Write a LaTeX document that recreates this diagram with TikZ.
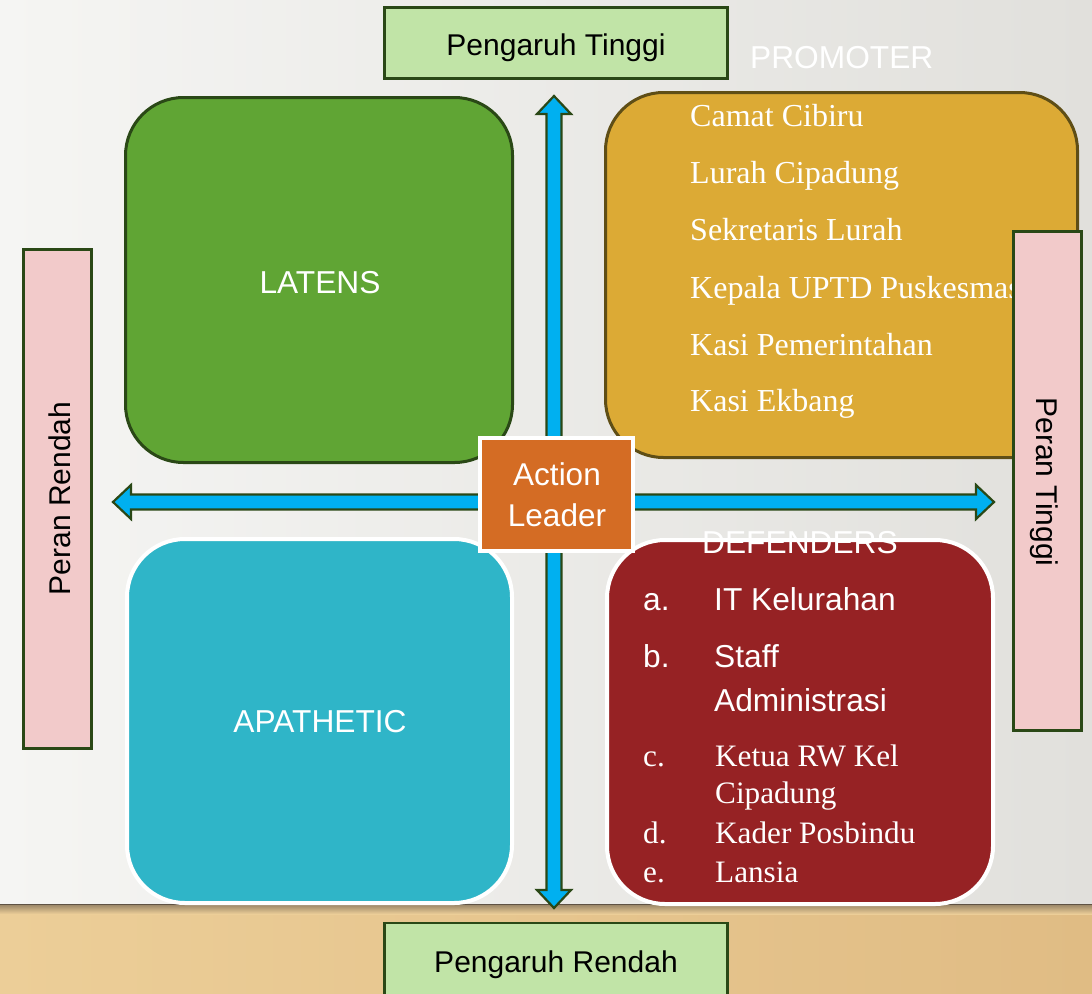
\documentclass[tikz,border=0pt]{standalone}
\usepackage{fontspec}
\setmainfont{Liberation Serif}
\newfontfamily\arial{Liberation Sans}
\definecolor{dkgreen}{RGB}{42,72,22}
\definecolor{lgreen}{RGB}{193,228,167}
\definecolor{pinkc}{RGB}{242,202,202}
\definecolor{latgreen}{RGB}{96,165,52}
\definecolor{promc}{RGB}{220,170,53}
\definecolor{probrd}{RGB}{95,78,22}
\definecolor{apac}{RGB}{47,181,200}
\definecolor{defc}{RGB}{150,34,36}
\definecolor{orangec}{RGB}{212,108,36}
\definecolor{arrblue}{RGB}{0,176,240}
\definecolor{bgl}{RGB}{245,245,243}
\definecolor{bgr}{RGB}{225,224,220}
\definecolor{wood1}{RGB}{236,206,152}
\definecolor{wood2}{RGB}{224,188,132}
\definecolor{shadowc}{RGB}{95,82,68}
\begin{document}
\begin{tikzpicture}[x=1pt,y=-1pt,
  blk/.style={font=\arial\fontsize{30}{36}\selectfont, text=black, inner sep=0},
  wlab/.style={font=\arial\fontsize{31.7}{37}\selectfont, text=white, inner sep=0},
  tlab/.style={font=\fontsize{32}{38}\selectfont, text=white, inner sep=0, anchor=base west},
  dlab/.style={font=\fontsize{31.2}{37}\selectfont, text=white, inner sep=0, anchor=base west},
  axisbox/.style={draw=dkgreen, line width=2.5pt, fill=lgreen, minimum width=343pt, minimum height=71pt, inner sep=0},
  rolebox/.style={draw=dkgreen, line width=2.5pt, fill=pinkc, minimum width=68pt, minimum height=499pt, inner sep=0},
  quad/.style={rounded corners=58pt, inner sep=0},
  arrowc/.style={fill=arrblue, draw=dkgreen, line width=2.2pt, line join=miter}
]
\useasboundingbox (0,0) rectangle (1092,993);
\clip (0,0) rectangle (1092,993);
% background
\shade[left color=bgl, right color=bgr] (0,0) rectangle (1092,905);
\shade[left color=wood1, right color=wood2] (0,904) rectangle (1092,993);
\shade[top color=shadowc!55!wood1, bottom color=wood1] (0,905) rectangle (1092,914);
\draw[shadowc, line width=1.6pt] (0,904.5) -- (1092,904.5);

% quadrants
\node[quad, draw=dkgreen, line width=3pt, fill=latgreen, minimum width=387pt, minimum height=365pt] (latens) at (319,280) {};
\node[wlab] (latensT) at (320,283) {LATENS};

\node[quad, draw=probrd, line width=3pt, fill=promc, minimum width=472pt, minimum height=365pt] (promoter) at (841.5,275) {};
\node[wlab, anchor=base west] (promoterT) at (750,68) {PROMOTER};
\node[tlab] (p1) at (690,126) {Camat Cibiru};
\node[tlab] (p2) at (690,183) {Lurah Cipadung};
\node[tlab] (p3) at (690,240) {Sekretaris Lurah};
\node[tlab] (p4) at (690,298) {Kepala UPTD Puskesmas};
\node[tlab] (p5) at (690,355) {Kasi Pemerintahan};
\node[tlab] (p6) at (690,411) {Kasi Ekbang};

\node[quad, draw=white, line width=4pt, fill=apac, minimum width=385pt, minimum height=364pt] (apathetic) at (319.5,721) {};
\node[wlab] (apatheticT) at (320,722) {APATHETIC};

\node[quad, draw=white, line width=4pt, fill=defc, minimum width=386pt, minimum height=364pt] (defenders) at (800,722) {};
\node[wlab, anchor=base west] (defendersT) at (702,553) {DEFENDERS};
\node[wlab, anchor=base west] (da) at (643,610) {a.};
\node[wlab, anchor=base west] (dai) at (714,610) {IT Kelurahan};
\node[wlab, anchor=base west] (db) at (643,667) {b.};
\node[wlab, anchor=base west] (dbi) at (714,667) {Staff};
\node[wlab, anchor=base west] (dbi2) at (714,711) {Administrasi};
\node[dlab] (dc) at (643,766) {c.};
\node[dlab] (dci) at (715,766) {Ketua RW Kel};
\node[dlab] (dci2) at (715,803) {Cipadung};
\node[dlab] (dd) at (643,843) {d.};
\node[dlab] (ddi) at (715,843) {Kader Posbindu};
\node[dlab] (de) at (643,882) {e.};
\node[dlab] (dei) at (715,882) {Lansia};

% axis labels
\node[axisbox] (tinggi) at (556,43) {};
\node[blk, anchor=base] (tinggiT) at (556,55) {Pengaruh Tinggi};
\node[axisbox, minimum height=80pt] (rendah) at (556,963) {};
\node[blk, anchor=base] (rendahT) at (556,972) {Pengaruh Rendah};
\node[rolebox] (peranR) at (57.5,499) {};
\node[blk, anchor=base, rotate=90] (peranRT) at (70,498.5) {Peran Rendah};
\node[rolebox] (peranT) at (1047.5,481) {};
\node[blk, anchor=base, rotate=-90] (peranTT) at (1036,482) {Peran Tinggi};

% arrows
\draw[arrowc] (554,96) -- (571,114) -- (561.5,114) -- (561.5,890) -- (571,890) -- (554,908)
  -- (537,890) -- (546.5,890) -- (546.5,114) -- (537,114) -- cycle;
\draw[arrowc] (113,502) -- (131,485) -- (131,494.5) -- (976,494.5) -- (976,485) -- (994,502)
  -- (976,519) -- (976,509.5) -- (131,509.5) -- (131,519) -- cycle;

% centre
\node[draw=white, line width=4pt, fill=orangec, minimum width=153pt, minimum height=113pt, inner sep=0] (action) at (556.5,494) {};
\node[wlab, align=center, font=\arial\fontsize{31.5}{41}\selectfont] (actionT) at (557,494.5) {Action\\Leader};
\end{tikzpicture}
\end{document}
